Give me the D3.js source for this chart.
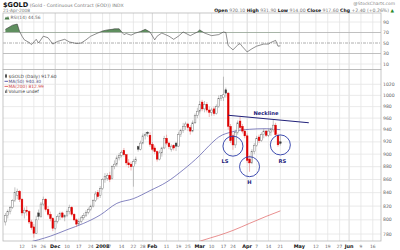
<!DOCTYPE html>
<html>
<head>
<meta charset="utf-8">
<script src="https://cdn.jsdelivr.net/npm/d3@7"></script>
<style>
  body { margin: 0; background: #fff; }
  svg { display: block; font-family: "DejaVu Sans", Verdana, sans-serif; }
</style>
</head>
<body>
<svg id="chart"></svg>
<script>
// trading calendar (weekdays minus exchange holidays), incl. blank future days
var firstDay = "2007-11-01", lastDay = "2008-06-19";
var holidays = ["2007-11-22","2007-12-25","2008-01-01","2008-01-21","2008-02-18","2008-03-21","2008-05-26"];

// daily candles, one per trading day from 2007-11-01 to 2008-04-21
var candleOpen = [797,806,812,818,828,836,842,830,810,814, 812,797,790,781,810,805,823,830,815,808,
  802,788,798,805,810,804,806,812,818,808, 800,794,798,803,806,811,815,820,828,840,
  836,846,860,862,866,862,880,884,894,898, 906,899,886,884,880,888,912,908,918,930,
  936,931,916,910,904,892,902,910,926,918, 908,914,918,913,932,939,946,950,944,938,
  952,965,972,988,976,984,974,970,976,968, 980,994,996,1010,1004,946,930,915,936,955,
  946,938,930,892,886,904,914,928,922,932, 938,931,936,940,948,931,920.1];
var candleHigh = [810,815,820,830,848,846,844,832,818,820, 814,800,794,806,815,826,834,832,820,812,
  804,800,808,812,812,808,815,822,820,810, 802,802,806,810,814,818,822,830,842,844,
  850,862,870,870,872,882,890,898,902,906, 910,900,892,888,892,896,914,922,934,936,
  938,936,920,914,906,906,912,930,932,920, 916,916,920,936,942,952,954,952,948,956,
  968,978,990,992,990,988,980,978,980,984, 1000,1000,1034,1014,1006,950,934,940,956,962,
  950,942,934,898,908,918,930,932,936,942, 940,942,944,957,952,934,931.9];
var candleLow = [792,802,808,816,826,830,826,806,802,806, 794,786,775,780,800,803,820,812,805,798,
  784,786,795,800,802,798,804,808,805,798, 790,792,795,800,804,808,813,818,826,830,
  832,844,855,858,856,860,876,880,890,895, 896,882,878,874,849,884,904,906,916,924,
  928,912,905,900,888,890,896,908,915,908, 904,906,905,912,928,935,940,938,932,936,
  950,960,968,972,970,970,962,964,964,966, 978,990,990,996,940,918,907,910,932,940,
  934,926,886,872,884,900,912,918,920,926, 928,928,930,936,930,912,914];
var candleClose = [806,812,818,828,840,842,830,810,814,812, 797,789,781,800,805,823,830,815,808,802,
  788,798,805,809,804,806,812,818,808,800, 794,798,803,806,811,815,820,828,838,834,
  846,860,865,866,860,880,884,894,898,903, 899,886,883,880,888,892,908,918,930,932,
  934,916,908,904,892,902,910,926,918,912, 913,910,913,932,939,946,950,944,938,952,
  965,972,984,976,984,974,970,974,968,980, 994,1000,1001,1004,946,922,915,936,952,944,
  938,930,890,886,904,914,926,922,932,938, 931,938,941,948,932,915.2,917.6];

// moving averages
var ma50Dates = ["2007-11-01","2007-11-21","2007-11-29","2007-12-10","2007-12-19","2007-12-31","2008-01-10",
  "2008-01-22","2008-01-31","2008-02-11","2008-02-21","2008-03-03","2008-03-07","2008-03-13","2008-03-24",
  "2008-04-02","2008-04-11","2008-04-21"];
var ma50Values = [762,772,777,786,795,807,824,831,843,856,875,898,914,928,937,941,942,940.3];
var ma200Dates = ["2008-02-26","2008-03-04","2008-03-13","2008-03-24","2008-04-02","2008-04-11","2008-04-21"];
var ma200Values = [765,771,778,785,795,805,813];

// RSI(14)
var rsiDates = ["2007-11-01","2007-11-06","2007-11-08","2007-11-09","2007-11-12","2007-11-13","2007-11-15",
  "2007-11-16","2007-11-20","2007-11-21","2007-11-26","2007-11-28","2007-11-30","2007-12-04","2007-12-07",
  "2007-12-11","2007-12-14","2007-12-18","2007-12-20","2007-12-24","2007-12-28","2008-01-02","2008-01-04",
  "2008-01-08","2008-01-09","2008-01-11","2008-01-15","2008-01-16","2008-01-18","2008-01-23","2008-01-25",
  "2008-01-29","2008-01-31","2008-02-04","2008-02-05","2008-02-07","2008-02-12","2008-02-14","2008-02-19",
  "2008-02-21","2008-02-26","2008-02-29","2008-03-03","2008-03-05","2008-03-10","2008-03-13","2008-03-17",
  "2008-03-18","2008-03-19","2008-03-20","2008-03-24","2008-03-26","2008-03-27","2008-03-28","2008-04-01",
  "2008-04-03","2008-04-07","2008-04-10","2008-04-14","2008-04-15","2008-04-17","2008-04-18","2008-04-21"];
var rsiValues = [76,84,86,72,63,56,51,47,57,50,63,60,48,53,57,52,49,50,56,63,69,73,75,76,77,77,66,68,65,
  69,72,76,71,56,63,69,63,57,63,71,64,71,75,69,64,66,71,70,45,41,37,46,49,43,33,39,44,48,48,51,55,44,44.56];

// axis labels
var priceTicks = [780,800,820,840,860,880,900,920,940,960,980,1000,1020];
var rsiTicks = [10,30,50,70,90];
var xTickDates = ["2007-11-12","2007-11-19","2007-11-26","2007-12-03","2007-12-10","2007-12-17","2007-12-24",
  "2008-01-02","2008-01-07","2008-01-14","2008-01-22","2008-01-28","2008-02-01","2008-02-11","2008-02-19",
  "2008-02-25","2008-03-03","2008-03-10","2008-03-17","2008-03-24","2008-04-01","2008-04-07","2008-04-14",
  "2008-04-21","2008-05-01","2008-05-12","2008-05-19","2008-05-27","2008-06-02","2008-06-09","2008-06-16"];
var xTickLabels = ["12","19","26","Dec","10","17","24","2008","7","14","22","28","Feb","11","19","25",
  "Mar","10","17","24","Apr","7","14","21","May","12","19","27","Jun","9","16"];

// head & shoulders annotation
var necklineDates = ["2008-03-19","2008-05-07"];
var necklineValues = [965,952];
var shoulderDates = ["2008-03-24","2008-04-02","2008-04-21"];
var shoulderValues = [913,880,915];
var shoulderLabels = ["LS","H","RS"];

var fmt = d3.timeFormat("%Y-%m-%d"), parse = d3.timeParse("%Y-%m-%d");
var days = d3.timeDay.range(parse(firstDay), d3.timeDay.offset(parse(lastDay), 1))
  .filter(function(d) { var w = d.getDay(); return w > 0 && w < 6; })
  .map(fmt)
  .filter(function(s) { return holidays.indexOf(s) < 0; });

var candles = candleClose.map(function(c, i) {
  return { date: days[i], o: candleOpen[i], h: candleHigh[i], l: candleLow[i], c: c,
           prev: i ? candleClose[i - 1] : c };
});

var W = 400, H = 250;
var left = 3, right = 381;
var rsiTop = 13, rsiBottom = 69.5, priceBottom = 241;

var svg = d3.select("#chart").attr("width", W).attr("height", H);

var x = d3.scalePoint().domain(days).range([5.4, 379.9]);
var y = d3.scaleLog().domain([780, 1020]).range([234, 84.3]);
var yr = d3.scaleLinear().domain([0, 100]).range([69.25, 16.75]);

var red = "#dd0000", navy = "#22227a", ring = "#2a3aa8";

svg.append("defs").append("clipPath").attr("id", "priceClip")
  .append("rect").attr("x", left).attr("y", rsiBottom).attr("width", right - left).attr("height", priceBottom - rsiBottom);
svg.select("defs").append("clipPath").attr("id", "obClip")
  .append("rect").attr("x", left).attr("y", rsiTop).attr("width", right - left).attr("height", yr(70) - rsiTop);

//vertical grid
var grid = svg.append("g");
grid.selectAll("line.v").data(xTickDates).enter().append("line")
  .attr("x1", d => x(d)).attr("x2", d => x(d))
  .attr("y1", rsiTop).attr("y2", priceBottom)
  .attr("stroke", (d, i) => isNaN(+xTickLabels[i]) ? "#cfcfcf" : "#e4e4e4")
  .attr("stroke-width", 0.8);

//horizontal grid, price
grid.selectAll("line.p").data(priceTicks).enter().append("line")
  .attr("x1", left).attr("x2", right).attr("y1", d => y(d)).attr("y2", d => y(d))
  .attr("stroke", "#e4e4e4").attr("stroke-width", 0.8);

//rsi guide lines
grid.selectAll("line.r").data(rsiTicks).enter().append("line")
  .attr("x1", left).attr("x2", right).attr("y1", d => yr(d)).attr("y2", d => yr(d))
  .attr("stroke", d => d == 70 || d == 30 ? "#b0b0b0" : d == 50 ? "#999" : "#e4e4e4")
  .attr("stroke-dasharray", d => d == 50 ? "3,1,1,1" : null)
  .attr("stroke-width", 0.8);

//panel frames
svg.append("rect").attr("x", left).attr("y", rsiTop).attr("width", right - left).attr("height", rsiBottom - rsiTop)
  .attr("fill", "none").attr("stroke", "#b8b8b8").attr("stroke-width", 0.8);
svg.append("rect").attr("x", left).attr("y", rsiBottom).attr("width", right - left).attr("height", priceBottom - rsiBottom)
  .attr("fill", "none").attr("stroke", "#b8b8b8").attr("stroke-width", 0.8);

//RSI
var rsi = rsiDates.map((d, i) => ({ date: d, v: rsiValues[i] }));
svg.append("path").datum(rsi)
  .attr("clip-path", "url(#obClip)")
  .attr("fill", "#5f8f5f").attr("stroke", "none")
  .attr("d", d3.area().x(d => x(d.date)).y0(yr(70)).y1(d => yr(d.v)));
svg.append("path").datum(rsi)
  .attr("fill", "none").attr("stroke", "#333").attr("stroke-width", 0.55)
  .attr("d", d3.line().x(d => x(d.date)).y(d => yr(d.v)));

//moving averages
var price = svg.append("g").attr("clip-path", "url(#priceClip)");
var maLine = d3.line().x(d => x(d.date)).y(d => y(d.v)).curve(d3.curveMonotoneX);
price.append("path").datum(ma50Dates.map((d, i) => ({ date: d, v: ma50Values[i] })))
  .attr("fill", "none").attr("stroke", "#5252a6").attr("stroke-width", 0.7).attr("d", maLine);
price.append("path").datum(ma200Dates.map((d, i) => ({ date: d, v: ma200Values[i] })))
  .attr("fill", "none").attr("stroke", "#e06060").attr("stroke-width", 0.7).attr("d", maLine);

//candles
var candleColor = d => d.c < d.prev ? red : "#3a3a3a";
var c = price.selectAll("g.candle").data(candles).enter().append("g");
c.append("line")
  .attr("x1", d => x(d.date)).attr("x2", d => x(d.date))
  .attr("y1", d => y(d.h)).attr("y2", d => y(d.l))
  .attr("stroke", d => d.c < d.prev ? "#e06a6a" : "#8a8a8a").attr("stroke-width", 0.5);
c.append("rect")
  .attr("x", d => x(d.date) - 0.85).attr("width", 1.7)
  .attr("y", d => y(Math.max(d.o, d.c)))
  .attr("height", d => Math.max(0.6, Math.abs(y(d.o) - y(d.c))))
  .attr("fill", d => d.c < d.o ? candleColor(d) : "#fff")
  .attr("stroke", d => d.c < d.o ? candleColor(d) : d.c < d.prev ? "#e06a6a" : "#707070")
  .attr("stroke-width", 0.45);

//annotation
var ann = svg.append("g");
ann.append("line")
  .attr("x1", x(necklineDates[0])).attr("y1", y(necklineValues[0]))
  .attr("x2", x(necklineDates[1])).attr("y2", y(necklineValues[1]))
  .attr("stroke", navy).attr("stroke-width", 1.1);
ann.append("text").attr("x", 266).attr("y", 115).attr("text-anchor", "middle")
  .attr("font-size", 5.2).attr("font-weight", "bold").attr("fill", navy).text("Neckline");
var sh = shoulderDates.map((d, i) => ({ date: d, v: shoulderValues[i], label: shoulderLabels[i] }));
ann.selectAll("circle").data(sh).enter().append("circle")
  .attr("cx", d => x(d.date)).attr("cy", d => y(d.v)).attr("r", 10)
  .attr("fill", "none").attr("stroke", ring).attr("stroke-width", 0.9);
var labelOffset = { LS: [-8, 17], H: [0, 17], RS: [2, 18] };
ann.selectAll("text.sh").data(sh).enter().append("text")
  .attr("x", d => x(d.date) + labelOffset[d.label][0])
  .attr("y", d => y(d.v) + labelOffset[d.label][1])
  .attr("text-anchor", "middle").attr("font-size", 5.2).attr("font-weight", "bold")
  .attr("fill", navy).text(d => d.label);

//right axes
var axisText = svg.append("g").attr("font-size", 4.6).attr("fill", "#666");
axisText.selectAll("text.p").data(priceTicks).enter().append("text")
  .attr("x", 383).attr("y", d => y(d) + 1.6).text(d => d);
axisText.selectAll("text.r").data(rsiTicks).enter().append("text")
  .attr("x", 383).attr("y", d => yr(d) + 1.6).text(d => d);

//x axis labels
svg.append("g").selectAll("text").data(xTickDates).enter().append("text")
  .attr("x", d => x(d)).attr("y", 248).attr("text-anchor", "middle")
  .attr("font-size", (d, i) => isNaN(+xTickLabels[i]) || xTickLabels[i] == "2008" ? 4.9 : 4.4)
  .attr("font-weight", (d, i) => isNaN(+xTickLabels[i]) || xTickLabels[i] == "2008" ? "bold" : "normal")
  .attr("fill", (d, i) => isNaN(+xTickLabels[i]) || xTickLabels[i] == "2008" ? "#111" : "#666")
  .text((d, i) => xTickLabels[i]);

//header
var title = svg.append("text").attr("x", 3).attr("y", 6.5).attr("font-size", 4.6).attr("fill", "#777");
title.append("tspan").attr("font-size", 6.6).attr("font-weight", "bold").attr("fill", "#111").text("$GOLD");
title.append("tspan").text(" (Gold - Continuous Contract (EOD)) INDX");
svg.append("text").attr("x", 395).attr("y", 5).attr("text-anchor", "end")
  .attr("font-size", 4.4).attr("fill", "#888").text("@StockCharts.com");
svg.append("text").attr("x", 3).attr("y", 11.5).attr("font-size", 4.4).attr("fill", "#777").text("21-Apr-2008");

var quote = svg.append("text").attr("x", 394).attr("y", 11.8).attr("text-anchor", "end")
  .attr("font-size", 4.6).attr("fill", "#777");
[["Open", " 920.10 "], ["High", " 931.90 "], ["Low", " 914.00 "], ["Close", " 917.60 "], ["Chg", " +2.40 (+0.26%) "]]
  .forEach(function(p) {
    quote.append("tspan").attr("font-weight", "bold").attr("fill", "#111").text(p[0]);
    quote.append("tspan").text(p[1]);
  });
quote.append("tspan").attr("fill", "#2a8a2a").text("▲");

//panel legends
svg.append("path").attr("d", "M4.5,19.5 L6,16.5 L7,18 L8,16 L9.5,19.5 Z").attr("fill", "#4a7a4a");
svg.append("text").attr("x", 10.5).attr("y", 19.3).attr("font-size", 4.4).attr("fill", "#666").text("RSI(14) 44.56");

var lg = svg.append("g").attr("font-size", 4.4);
lg.append("rect").attr("x", 5.3).attr("y", 74.5).attr("width", 1.4).attr("height", 3).attr("fill", "#222");
lg.append("line").attr("x1", 6).attr("x2", 6).attr("y1", 73.8).attr("y2", 78.2).attr("stroke", "#222").attr("stroke-width", 0.4);
lg.append("text").attr("x", 8.5).attr("y", 77.8).attr("fill", "#444").text("$GOLD (Daily) 917.60");
lg.append("line").attr("x1", 4.5).attr("x2", 8).attr("y1", 81.3).attr("y2", 81.3).attr("stroke", "#4a4aa0").attr("stroke-width", 0.9);
lg.append("text").attr("x", 8.5).attr("y", 82.9).attr("fill", "#4a4a7a").text("MA(50) 940.30");
lg.append("line").attr("x1", 4.5).attr("x2", 8).attr("y1", 86.4).attr("y2", 86.4).attr("stroke", "#e05a5a").attr("stroke-width", 0.9);
lg.append("text").attr("x", 8.5).attr("y", 88).attr("fill", "#cc4444").text("MA(200) 812.99");
lg.append("rect").attr("x", 5).attr("y", 90.5).attr("width", 0.9).attr("height", 2.5).attr("fill", "#666");
lg.append("rect").attr("x", 6.3).attr("y", 89.5).attr("width", 0.9).attr("height", 3.5).attr("fill", "#666");
lg.append("text").attr("x", 8.5).attr("y", 93.1).attr("fill", "#444").text("Volume undef");
</script>
</body>
</html>
